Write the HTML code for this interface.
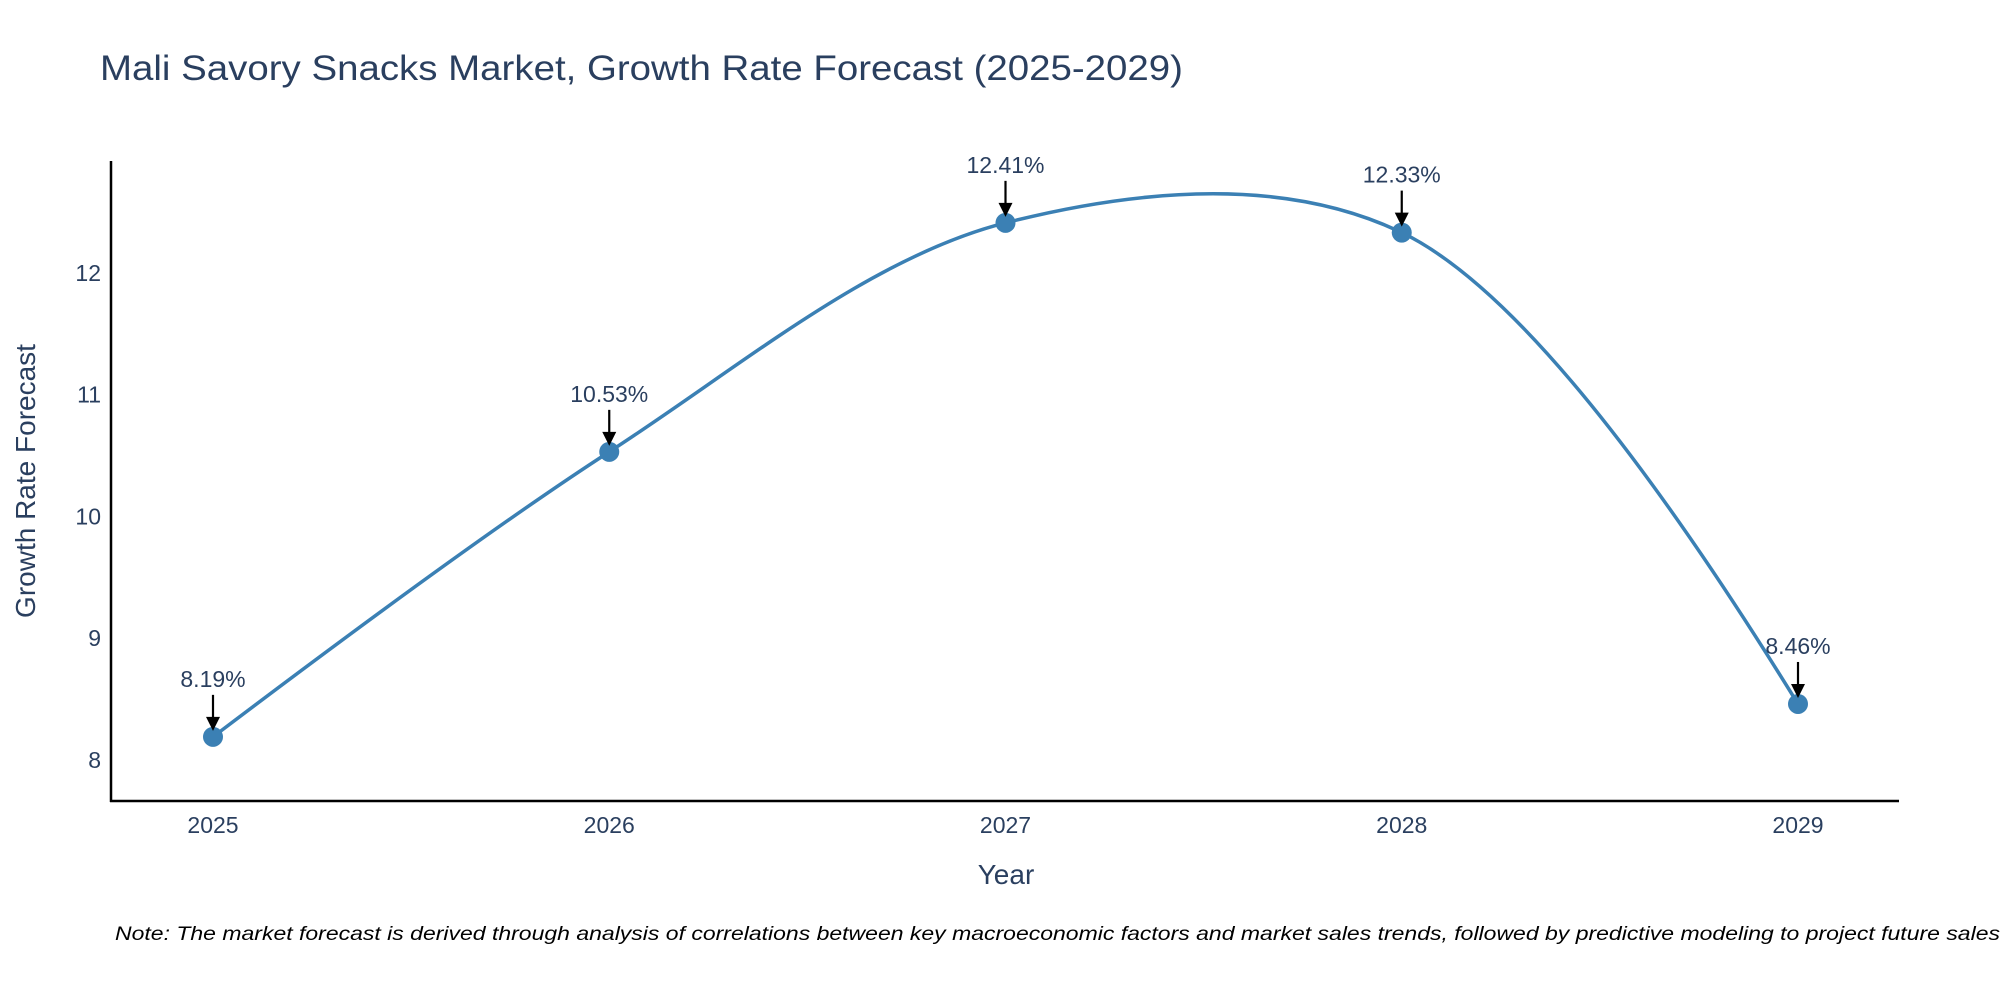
<!DOCTYPE html>
<html><head><meta charset="utf-8"><style>
html,body{margin:0;padding:0;background:#fff;}
svg{display:block;font-family:"Liberation Sans",sans-serif;}
</style></head><body>
<svg id="chart" width="2000" height="1000">
<text x="100" y="80" font-size="35" fill="#2a3f5f" textLength="1083" lengthAdjust="spacingAndGlyphs">Mali Savory Snacks Market, Growth Rate Forecast (2025-2029)</text>
<g id="yticks"></g>
<g id="xticks"></g>
<line x1="111" y1="161" x2="111" y2="802" stroke="#000" stroke-width="2.5"/>
<line x1="110" y1="801" x2="1899" y2="801" stroke="#000" stroke-width="2.5"/>
<text x="1006" y="884" font-size="28" fill="#2a3f5f" text-anchor="middle">Year</text>
<text transform="translate(35,481) rotate(-90)" font-size="28" fill="#2a3f5f" text-anchor="middle">Growth Rate Forecast</text>
<g id="series"></g>
<g id="annots"></g>
<text x="115" y="940" font-size="19" font-style="italic" fill="#000" textLength="1885" lengthAdjust="spacingAndGlyphs">Note: The market forecast is derived through analysis of correlations between key macroeconomic factors and market sales trends, followed by predictive modeling to project future sales</text>
</svg>
<script>
const categories = [2025, 2026, 2027, 2028, 2029];
const values = [8.19, 10.53, 12.41, 12.33, 8.46];
const labels = ["8.19%", "10.53%", "12.41%", "12.33%", "8.46%"];
const yTicks = [8, 9, 10, 11, 12];

const NS = "http://www.w3.org/2000/svg";
function xScale(v){ return 213 + (v - 2025) * 396.25; }
function yScale(v){ return 760 - (v - 8) * 121.8; }
function mk(tag, attrs, parent){ const e = document.createElementNS(NS, tag); for (const k in attrs) e.setAttribute(k, attrs[k]); parent.appendChild(e); return e; }

const yt = document.getElementById('yticks');
yTicks.forEach(t => {
  const el = mk('text', {x: 101, y: yScale(t) + 8, 'font-size': 23, fill: '#2a3f5f', 'text-anchor': 'end'}, yt);
  el.textContent = t;
  
  
});
const xt = document.getElementById('xticks');
categories.forEach(c => {
  const el = mk('text', {x: xScale(c), y: 833, 'font-size': 23, fill: '#2a3f5f', 'text-anchor': 'middle'}, xt);
  el.textContent = c;
  
  
});

// plotly-like spline
const pts = categories.map((c, i) => [xScale(c), yScale(values[i])]);
function tangent(p0, p1, p2){
  const d1x = p0[0]-p1[0], d1y = p0[1]-p1[1], d2x = p2[0]-p1[0], d2y = p2[1]-p1[1];
  const d1a = Math.pow(d1x*d1x + d1y*d1y, 0.25), d2a = Math.pow(d2x*d2x + d2y*d2y, 0.25);
  const numx = (d2a*d2a*d1x - d1a*d1a*d2x), numy = (d2a*d2a*d1y - d1a*d1a*d2y);
  const den1 = 3*d2a*(d1a+d2a), den2 = 3*d1a*(d1a+d2a);
  return [[p1[0]+numx/den1, p1[1]+numy/den1], [p1[0]-numx/den2, p1[1]-numy/den2]];
}
const tg = [];
for (let i = 1; i < pts.length-1; i++) tg.push(tangent(pts[i-1], pts[i], pts[i+1]));
let d = `M${pts[0]} Q${tg[0][0]} ${pts[1]}`;
for (let i = 2; i < pts.length-1; i++) d += ` C${tg[i-2][1]} ${tg[i-1][0]} ${pts[i]}`;
d += ` Q${tg[tg.length-1][1]} ${pts[pts.length-1]}`;
const ser = document.getElementById('series');
const line = mk('path', {d: d, fill: 'none', stroke: '#3b80b4', 'stroke-width': 3.5}, ser);


pts.forEach(p => {
  const c = mk('circle', {cx: p[0], cy: p[1], r: 10, fill: '#3b80b4'}, ser);
  
  
});

const an = document.getElementById('annots');
pts.forEach((p, i) => {
  const l = mk('line', {x1: p[0], y1: p[1]-42, x2: p[0], y2: p[1]-16, stroke: '#000', 'stroke-width': 2.2}, an);
  
  
  const h = mk('polygon', {points: `${p[0]-7},${p[1]-20} ${p[0]+7},${p[1]-20} ${p[0]},${p[1]-6}`, fill: '#000'}, an);
  
  
  const t = mk('text', {x: p[0], y: p[1]-50, 'font-size': 23, fill: '#2a3f5f', 'text-anchor': 'middle'}, an);
  t.textContent = labels[i];
  
  
});
</script>
</body></html>
